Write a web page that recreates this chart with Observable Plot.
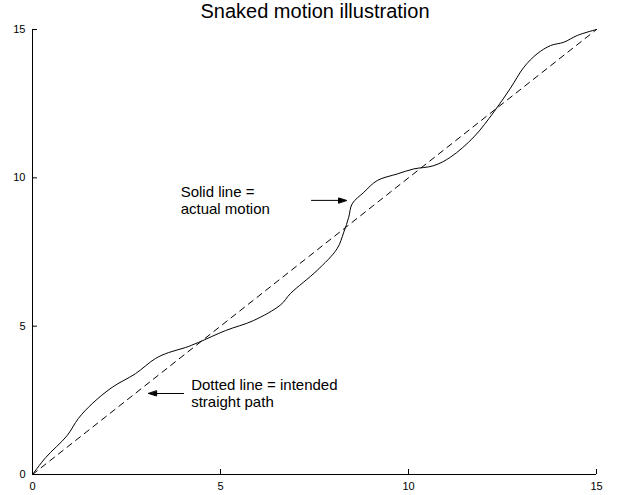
<!DOCTYPE html>
<html><head><meta charset="utf-8">
<script src="https://cdn.jsdelivr.net/npm/d3@7"></script>
<script src="https://cdn.jsdelivr.net/npm/@observablehq/plot@0.6"></script>
<style>
body{margin:0;background:#fff;font-family:"Liberation Sans",Arial,sans-serif;}
#title{height:24px;line-height:22px;text-align:center;font-size:20px;width:622px;padding-left:8px;box-sizing:border-box;color:#000;overflow:hidden}
</style></head><body>
<div id="title">Snaked motion illustration</div>
<div id="chart"></div>
<script>
// actual (snaked) motion path
const motionX = [0, 0.35, 0.92, 1.22, 1.59, 2.12, 2.74, 3.27, 3.62, 4.07, 4.41, 5.13, 5.88, 6.60, 6.86, 7.57, 8.10, 8.28, 8.41, 8.50, 8.81, 9.17, 9.70, 10.14, 10.67, 11.12, 11.74, 12.27, 12.71, 13.07, 13.42, 13.78, 14.13, 14.49, 15];
const motionY = [0, 0.57, 1.31, 1.89, 2.39, 2.94, 3.40, 3.91, 4.11, 4.28, 4.45, 4.85, 5.19, 5.72, 6.10, 6.88, 7.61, 8.17, 8.67, 9.12, 9.51, 9.91, 10.13, 10.30, 10.41, 10.70, 11.38, 12.22, 13.02, 13.73, 14.18, 14.46, 14.57, 14.80, 15];
// intended straight path
const pathX = [0, 15];
const pathY = [0, 15];
// ticks
const xTicks = [0, 5, 10, 15];
const yTicks = [0, 5, 10, 15];
// annotations
const noteText = ["Solid line =\nactual motion", "Dotted line = intended\nstraight path"];
const noteX = [3.94, 4.22];
const noteY = [9.24, 2.73];
const arrowX = [7.42, 4.02];
const arrowY = [9.24, 2.73];
const arrowDir = [90, -90];

const motion = motionX.map((x, i) => ({x, y: motionY[i]}));
const path = pathX.map((x, i) => ({x, y: pathY[i]}));
const notes = noteText.map((t, i) => ({t, x: noteX[i], y: noteY[i]}));
const arrows = arrowX.map((x, i) => ({x, y: arrowY[i], r: arrowDir[i]}));

const filledArrow = {
  draw(ctx, l) {
    ctx.moveTo(0, 0);
    ctx.lineTo(0, -l + 7);
    ctx.moveTo(0, -l);
    ctx.lineTo(-2.5, -l + 8);
    ctx.lineTo(2.5, -l + 8);
    ctx.closePath();
  }
};

const chart = Plot.plot({
  width: 622,
  height: 471,
  marginTop: 5,
  marginBottom: 21,
  marginLeft: 32,
  marginRight: 26,
  style: {fontFamily: "'Liberation Sans', Arial, sans-serif", fontSize: "11px", color: "#000", background: "#fff"},
  x: {domain: [0, 15], ticks: xTicks, tickSize: -5, tickPadding: 13, label: null},
  y: {domain: [0, 15], ticks: yTicks, tickSize: -5, tickPadding: 12, label: null},
  marks: [
    Plot.ruleX([0], {stroke: "#000"}),
    Plot.ruleY([0], {stroke: "#000"}),
    Plot.line(path, {x: "x", y: "y", stroke: "#000", strokeWidth: 1, strokeDasharray: "6,5"}),
    Plot.line(motion, {x: "x", y: "y", stroke: "#000", strokeWidth: 1, curve: "catmull-rom"}),
    Plot.vector(arrows, {x: "x", y: "y", rotate: "r", length: 35, anchor: "start", shape: filledArrow, stroke: "#000", fill: "#000", strokeWidth: 1}),
    Plot.text(notes, {x: "x", y: "y", text: "t", textAnchor: "start", lineAnchor: "middle", fontSize: 15, lineHeight: 1.12, fill: "#000"})
  ]
});
document.getElementById("chart").appendChild(chart);
</script>
</body></html>
